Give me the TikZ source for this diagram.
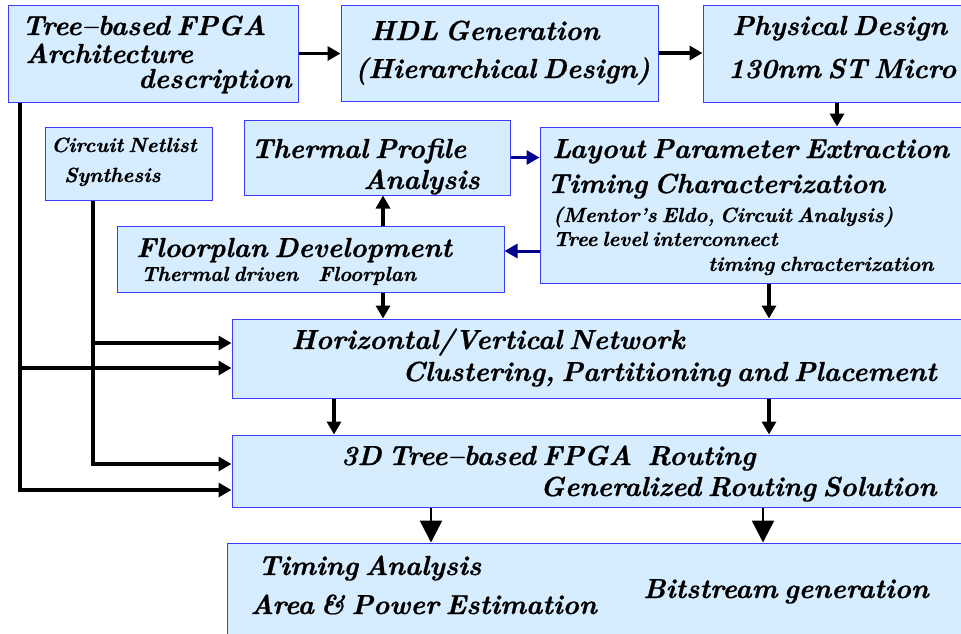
\documentclass[tikz,border=0pt]{standalone}
\usepackage{fontspec}
\setmainfont{Latin Modern Roman}[BoldItalicFeatures={FakeBold=0.8}]
\usepackage{tikz}
\usetikzlibrary{calc}
\usetikzlibrary{arrows.meta}

\definecolor{boxfill}{RGB}{214,236,255}
\definecolor{boxline}{RGB}{60,60,255}
\definecolor{navyline}{RGB}{0,0,140}

% box from (x1,y1) to (x2,y2), y counted downwards
\newcommand{\stagebox}[5]{\node[stage, minimum width={#4-#2}, minimum height={#5-#3}] (#1) at ({(#2+#4)/2},{(#3+#5)/2}) {};}
% one line of text, left end of its base line at (x,y)
\newcommand{\stagetext}[5]{\node[lbl, #4] (#1) at (#2,#3) {#5};}
\newcommand{\tightspace}{\spaceskip 0.24em\relax}

\begin{document}
\begin{tikzpicture}[x=1pt,y=-1pt,
    stage/.style={draw=boxline, fill=boxfill, line width=1pt, inner sep=0pt},
    lbl/.style={anchor=base west, inner sep=0pt},
    hd/.style={font=\fontsize{27.5}{27.5}\selectfont\bfseries\itshape\tightspace},
    sm/.style={font=\fontsize{20.5}{20.5}\selectfont\bfseries\itshape\tightspace},
    wire/.style={line width=3.5pt},
    flow/.style={line width=3.5pt, -{Triangle[length=13pt,width=14pt]}},
    feed/.style={navyline, line width=3pt, -{Triangle[length=13pt,width=14pt]}},
    drop/.style={line width=2.5pt, -{Triangle[length=22pt,width=22pt]}}]

        \useasboundingbox (0,0) rectangle (961,633);

        % top row
        \stagebox{arch}{8}{5}{298}{102}
        \stagebox{hdl}{341}{5}{658}{101}
        \stagebox{phys}{703}{5}{975}{102}

        \stagetext{t1}{22}{35}{hd}{Tree--based FPGA}
        \stagetext{t2}{25}{63}{hd}{Architecture}
        \stagetext{t3}{138}{88}{hd}{description}

        \stagetext{t4}{370}{40}{hd}{HDL Generation}
        \stagetext{t5}{355}{78}{hd}{(Hierarchical Design)}

        \stagetext{t6}{732}{35}{hd}{Physical Design}
        \stagetext{t7}{728}{78}{hd}{130nm ST Micro}

        % middle
        \stagebox{netlist}{45}{127}{212}{200}
        \stagebox{thermal}{244}{120}{510}{195}
        \stagebox{floor}{117}{226}{504}{292}
        \stagebox{layout}{540}{127}{975}{283}

        \stagetext{t8}{51}{152}{sm}{Circuit Netlist}
        \stagetext{t9}{64}{182}{sm}{Synthesis}

        \stagetext{t10}{251}{158}{hd}{Thermal Profile}
        \stagetext{t11}{363}{189}{hd}{Analysis}

        \stagetext{t12}{136}{257}{hd}{Floorplan Development}
        \stagetext{t13}{141}{281}{sm}{Thermal driven\hspace{20pt}Floorplan}

        \stagetext{t14}{552}{158}{hd}{Layout Parameter Extraction}
        \stagetext{t15}{547}{193}{hd}{Timing Characterization}
        \stagetext{t16}{553}{222}{sm}{(Mentor's Eldo, Circuit Analysis)}
        \stagetext{t17}{553}{246}{sm}{Tree level interconnect}
        \stagetext{t18}{708}{271}{sm}{timing chracterization}

        % lower rows
        \stagebox{network}{232}{319}{975}{398}
        \stagebox{route}{232}{435}{975}{507}
        \stagebox{result}{227}{543}{975}{645}

        \stagetext{t19}{291}{349}{hd}{Horizontal/Vertical Network}
        \stagetext{t20}{402}{381}{hd}{Clustering, Partitioning and Placement}

        \stagetext{t21}{341}{465}{hd}{3D Tree--based FPGA\hspace{15pt}Routing}
        \stagetext{t22}{540}{496}{hd}{Generalized Routing Solution}

        \stagetext{t23}{258}{575}{hd}{Timing Analysis}
        \stagetext{t24}{250}{614}{hd}{Area \& Power Estimation}
        \stagetext{t25}{643}{598}{hd}{Bitstream generation}

        % columns used by the connectors
        \coordinate (xa) at (20,0);
        \coordinate (xb) at (93,0);
        \coordinate (xc) at (383,0);
        \coordinate (xd) at (769,0);
        \coordinate (xe) at (837,0);
        \coordinate (xf) at (334,0);
        \coordinate (xg) at (431,0);
        \coordinate (xh) at (763,0);
        \coordinate (ya) at (0,343);
        \coordinate (yb) at (0,368);
        \coordinate (yc) at (0,464);
        \coordinate (yd) at (0,490);
        \coordinate (ye) at (0,251);

        \draw[flow] (arch.east) -- (arch.east -| hdl.west);
        \draw[flow] (hdl.east) -- (hdl.east -| phys.west);
        \draw[flow] (phys.south -| xe) -- (layout.north -| xe);

        \draw[feed] (thermal.east) -- (thermal.east -| layout.west);
        \draw[feed] (layout.west |- ye) -- (floor.east |- ye);
        \draw[flow] (floor.north -| xc) -- (thermal.south -| xc);

        \draw[flow] (floor.south -| xc) -- (network.north -| xc);
        \draw[flow] (layout.south -| xd) -- (network.north -| xd);
        \draw[flow] (network.south -| xf) -- (route.north -| xf);
        \draw[flow] (network.south -| xd) -- (route.north -| xd);
        \draw[drop] (route.south -| xg) -- (result.north -| xg);
        \draw[drop] (route.south -| xh) -- (result.north -| xh);

        \draw[flow] (netlist.south -| xb) |- (route.west |- yc);
        \draw[flow] (xb |- ya) -- (network.west |- ya);
        \draw[flow] (arch.south -| xa) |- (route.west |- yd);
        \draw[flow] (xa |- yb) -- (network.west |- yb);

\end{tikzpicture}
\end{document}
